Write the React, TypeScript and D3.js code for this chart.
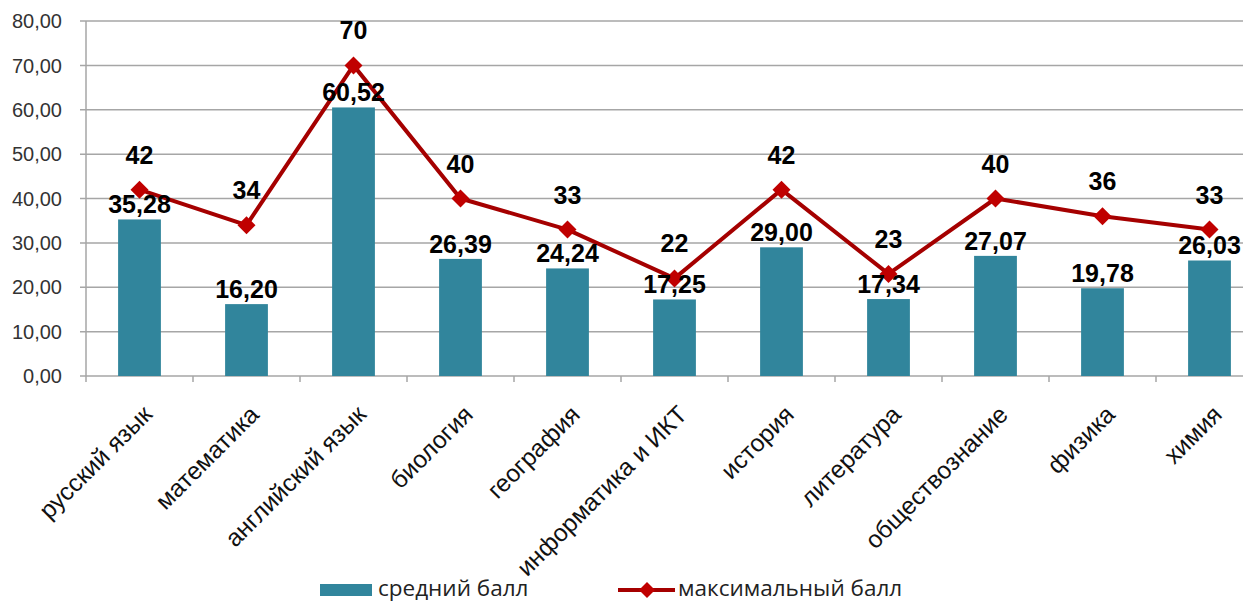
import React from 'react';
import * as d3 from 'd3';

const W = 1257;
const H = 603;

const subjects = [
  'русский язык',
  'математика',
  'английский язык',
  'биология',
  'география',
  'информатика и ИКТ',
  'история',
  'литература',
  'обществознание',
  'физика',
  'химия'
];

const avgScores = [35.28, 16.2, 60.52, 26.39, 24.24, 17.25, 29.0, 17.34, 27.07, 19.78, 26.03];
const maxScores = [42, 34, 70, 40, 33, 22, 42, 23, 40, 36, 33];

const yTicks = [0, 10, 20, 30, 40, 50, 60, 70, 80];

const seriesNames = ['средний балл', 'максимальный балл'];

const barColor = '#31859C';
const lineColor = '#A50000';
const markerColor = '#C00000';
const gridColor = '#A6A6A6';

const margin = {top: 21, left: 86, bottom: 376, right: 1263, gridEnd: 1243};

const fmt = (v: number) => v.toFixed(2).replace('.', ',');

export default function App() {
  const x = d3
    .scaleBand()
    .domain(subjects)
    .range([margin.left, margin.right])
    .paddingInner(0.6)
    .paddingOuter(0.3);

  const y = d3
    .scaleLinear()
    .domain([0, 80])
    .range([margin.bottom, margin.top]);

  const cx = (s: string) => (x(s) || 0) + x.bandwidth() / 2;

  const line = d3
    .line<number>()
    .x((d, i) => cx(subjects[i]))
    .y((d) => y(d));

  const diamond = (px: number, py: number, r: number) =>
    `M${px},${py - r}L${px + r},${py}L${px},${py + r}L${px - r},${py}Z`;

  const step = x.step();
  const boundaries = d3.range(subjects.length).map((i) => margin.left + i * step);

  return (
    <svg
      width={W}
      height={H}
      style={{position: 'absolute', left: 0, top: 0, background: '#fff'}}
      fontFamily="'Liberation Sans', Arial, sans-serif"
    >
      {/* grid */}
      {yTicks.map((t) => (
        <g key={t}>
          <line x1={80} x2={margin.gridEnd} y1={y(t)} y2={y(t)} stroke={gridColor} strokeWidth={1.5} />
          <text x={62} y={y(t)} dy="0.36em" textAnchor="end" fontSize={20} fill="#333">
            {fmt(t)}
          </text>
        </g>
      ))}
      <line x1={margin.left} x2={margin.left} y1={margin.top} y2={margin.bottom} stroke={gridColor} strokeWidth={1.5} />
      {boundaries.map((bx, i) => (
        <line key={i} x1={bx} x2={bx} y1={margin.bottom} y2={margin.bottom + 6} stroke={gridColor} strokeWidth={1.5} />
      ))}

      {/* bars */}
      {subjects.map((s, i) => (
        <rect
          key={s}
          x={x(s)}
          y={y(avgScores[i])}
          width={x.bandwidth()}
          height={y(0) - y(avgScores[i])}
          fill={barColor}
        />
      ))}

      {/* line */}
      <path d={line(maxScores) || ''} fill="none" stroke={lineColor} strokeWidth={4} strokeLinejoin="round" />
      {maxScores.map((v, i) => (
        <path key={i} d={diamond(cx(subjects[i]), y(v), 9)} fill={markerColor} />
      ))}

      {/* bar labels */}
      {subjects.map((s, i) => (
        <text
          key={s}
          x={cx(s)}
          y={y(avgScores[i]) - 6}
          textAnchor="middle"
          fontSize={25}
          fontWeight="bold"
          fill="#000"
        >
          {fmt(avgScores[i])}
        </text>
      ))}

      {/* line labels */}
      {maxScores.map((v, i) => (
        <text
          key={i}
          x={cx(subjects[i])}
          y={y(v) - 26}
          textAnchor="middle"
          fontSize={25}
          fontWeight="bold"
          fill="#000"
        >
          {v}
        </text>
      ))}

      {/* category labels */}
      {subjects.map((s) => (
        <text
          key={s}
          transform={`translate(${cx(s) + 14},${margin.bottom + 40}) rotate(-45)`}
          textAnchor="end"
          fontSize={24.5}
          fill="#111"
        >
          {s}
        </text>
      ))}

      {/* legend */}
      <g fontFamily="'Open Sans', 'Noto Sans', sans-serif" fontSize={22.5} fill="#222">
        <rect x={320} y={584} width={52} height={12} fill={barColor} />
        <text x={378} y={596}>{seriesNames[0]}</text>
        <line x1={618} x2={675} y1={590} y2={590} stroke={lineColor} strokeWidth={4} />
        <path d={diamond(647, 590, 8)} fill={markerColor} />
        <text x={678} y={596}>{seriesNames[1]}</text>
      </g>
    </svg>
  );
}
